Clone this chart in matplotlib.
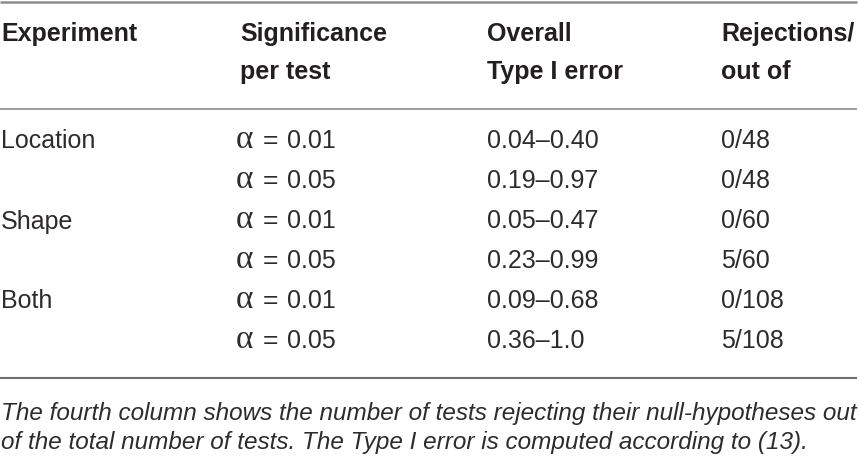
import matplotlib
matplotlib.use('Agg')
import matplotlib.pyplot as plt

# Table contents
header_1 = ['Experiment', 'Significance', 'Overall', 'Rejections/']
header_2 = ['', 'per test', 'Type I error', 'out of']
experiments = ['Location', '', 'Shape', '', 'Both', '']
alpha_values = ['0.01', '0.05'] * 3
type1_error = ['0.04\u20130.40', '0.19\u20130.97', '0.05\u20130.47',
               '0.23\u20130.99', '0.09\u20130.68', '0.36\u20131.0']
rejections = ['0/48', '0/48', '0/60', '5/60', '0/108', '5/108']
caption = ['The fourth column shows the number of tests rejecting their null-hypotheses out',
           'of the total number of tests. The Type I error is computed according to (13).']

W, H = 859, 458
fig = plt.figure(figsize=(W / 100, H / 100), dpi=100)
ax = fig.add_axes([0, 0, 1, 1])
ax.set_xlim(0, W)
ax.set_ylim(H, 0)
ax.axis('off')

font = 'Liberation Sans'
size = 18
col_x = [1, 240, 487, 721]
text_color = '#231f20'
body_color = '#2e2b2c'

# Rules
ax.plot([0, 857], [2, 2], color='#8c8c8c', lw=1.8, solid_capstyle='butt')
ax.plot([0, 857], [108.5, 108.5], color='#8c8c8c', lw=1.2, solid_capstyle='butt')
ax.plot([0, 857], [378, 378], color='#707070', lw=1.5, solid_capstyle='butt')

# Header
for x, h1, h2 in zip(col_x, header_1, header_2):
    ax.text(x, 41, h1, family=font, fontsize=size, fontweight='bold',
            color=text_color, va='baseline', ha='left')
    ax.text(x, 79, h2, family=font, fontsize=size, fontweight='bold',
            color=text_color, va='baseline', ha='left')

# Body rows
for i in range(len(alpha_values)):
    y = 148.5 + 40 * i
    ax.text(col_x[0], y, experiments[i], family=font, fontsize=size,
            color=body_color, va='baseline', ha='left')
    # alpha symbol, equals sign and value set apart like the original
    ax.text(236, y, '\u03b1', family='Liberation Serif', fontsize=size + 6,
            color=body_color, va='baseline', ha='left')
    ax.text(263, y, '=', family=font, fontsize=size + 1,
            color=body_color, va='baseline', ha='left')
    ax.text(287, y, alpha_values[i], family=font, fontsize=size,
            color=body_color, va='baseline', ha='left')
    ax.text(col_x[2], y, type1_error[i], family=font, fontsize=size,
            color=body_color, va='baseline', ha='left')
    ax.text(col_x[3], y, rejections[i], family=font, fontsize=size,
            color=body_color, va='baseline', ha='left')

# Caption
for k, line in enumerate(caption):
    ax.text(1, 420 + 29 * k, line, family=font, fontsize=17.5,
            style='italic', color=body_color, va='baseline', ha='left')

fig.savefig('out.png', dpi=100)
